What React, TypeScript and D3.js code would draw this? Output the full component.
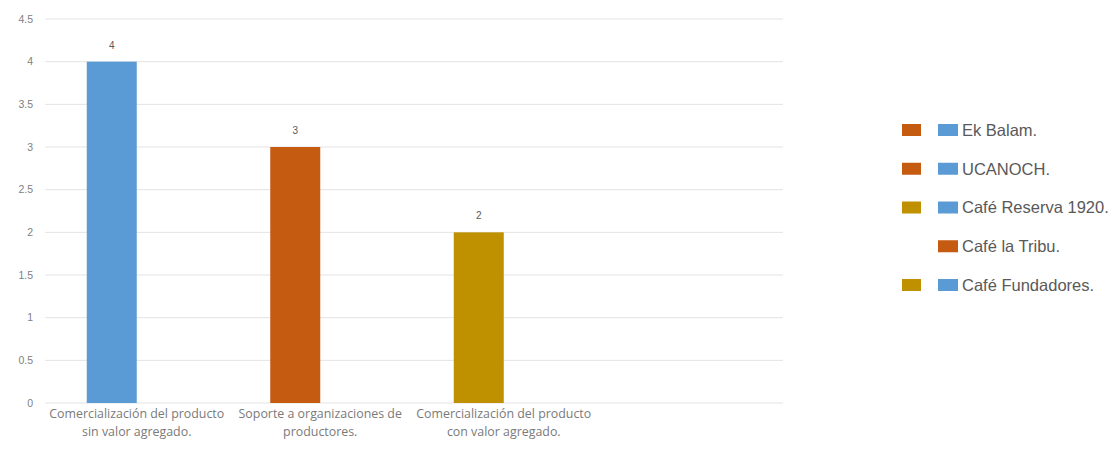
import React from "react";
import * as d3 from "d3";

const categories: string[][] = [
  ["Comercialización del producto", "sin valor agregado."],
  ["Soporte a organizaciones de", "productores."],
  ["Comercialización del producto", "con valor agregado."],
  [],
];
const categoryKeys = ["c1", "c2", "c3", "c4"];
const slots = ["s1", "s2"];
const barValues: (number | null)[] = [4, 3, 2, null];
const barColors = ["#5B9BD5", "#C55A11", "#BF9000", "#5B9BD5"];
const yTicks = [0, 0.5, 1, 1.5, 2, 2.5, 3, 3.5, 4, 4.5];

const legendNames = ["Ek Balam.", "UCANOCH.", "Café Reserva 1920.", "Café la Tribu.", "Café Fundadores."];
const legendFirst: (string | null)[] = ["#C55A11", "#C55A11", "#BF9000", null, "#BF9000"];
const legendSecond = ["#5B9BD5", "#5B9BD5", "#5B9BD5", "#C55A11", "#5B9BD5"];

const W = 1116;
const H = 451;
const plot = { left: 45, right: 779, gridRight: 783, top: 19, bottom: 403 };
const BAR_W = 50;

export default function App() {
  const x = d3.scaleBand<string>().domain(categoryKeys).range([plot.left, plot.right]).padding(0);
  const bw = x.bandwidth();
  const inner = d3
    .scaleBand<string>()
    .domain(slots)
    .range([bw / 2 - BAR_W, bw / 2 + BAR_W])
    .padding(0);
  const y = d3.scaleLinear().domain([0, 4.5]).range([plot.bottom, plot.top]);
  const legendY = d3.scalePoint<number>().domain(d3.range(legendNames.length)).range([130, 285]);

  return (
    <svg
      width={W}
      height={H}
      style={{ position: "absolute", left: 0, top: 0, background: "#fff" }}
      fontFamily="'Liberation Sans', Arial, sans-serif"
    >
      <rect width={W} height={H} fill="#fff" />
      {yTicks.map((t) => (
        <g key={t}>
          <line x1={plot.left} x2={plot.gridRight} y1={y(t)} y2={y(t)} stroke="#e3e3e3" strokeWidth={1} />
          <text x={33} y={y(t)} dy="0.35em" textAnchor="end" fontSize={10.5} fill="#808080">
            {d3.format("")(t)}
          </text>
        </g>
      ))}
      {barValues.map((v, i) =>
        v == null ? null : (
          <g key={i}>
            <rect
              x={(x(categoryKeys[i]) as number) + (inner("s1") as number)}
              y={y(v)}
              width={inner.bandwidth()}
              height={y(0) - y(v)}
              fill={barColors[i]}
            />
            <text
              x={(x(categoryKeys[i]) as number) + (inner("s1") as number) + inner.bandwidth() / 2}
              y={y(v) - 13}
              textAnchor="middle"
              fontSize={10}
              fill="#595959"
            >
              {v}
            </text>
          </g>
        )
      )}
      {categories.map((lines, i) => (
        <text
          key={i}
          x={(x(categoryKeys[i]) as number) + bw / 2}
          y={plot.bottom + 15}
          textAnchor="middle"
          fontSize={12.4}
          fill="#7a7a7a"
          fontFamily="'Open Sans', sans-serif"
        >
          {lines.map((l, j) => (
            <tspan key={j} x={(x(categoryKeys[i]) as number) + bw / 2} dy={j === 0 ? 0 : 18}>
              {l}
            </tspan>
          ))}
        </text>
      ))}
      {legendNames.map((name, i) => {
        const cy = legendY(i) as number;
        return (
          <g key={name}>
            {legendFirst[i] && <rect x={902} y={cy - 6} width={19} height={12} fill={legendFirst[i] as string} />}
            <rect x={938} y={cy - 6} width={20} height={12} fill={legendSecond[i]} />
            <text x={962} y={cy} dy="0.35em" fontSize={16.5} fill="#595959">
              {name}
            </text>
          </g>
        );
      })}
    </svg>
  );
}
